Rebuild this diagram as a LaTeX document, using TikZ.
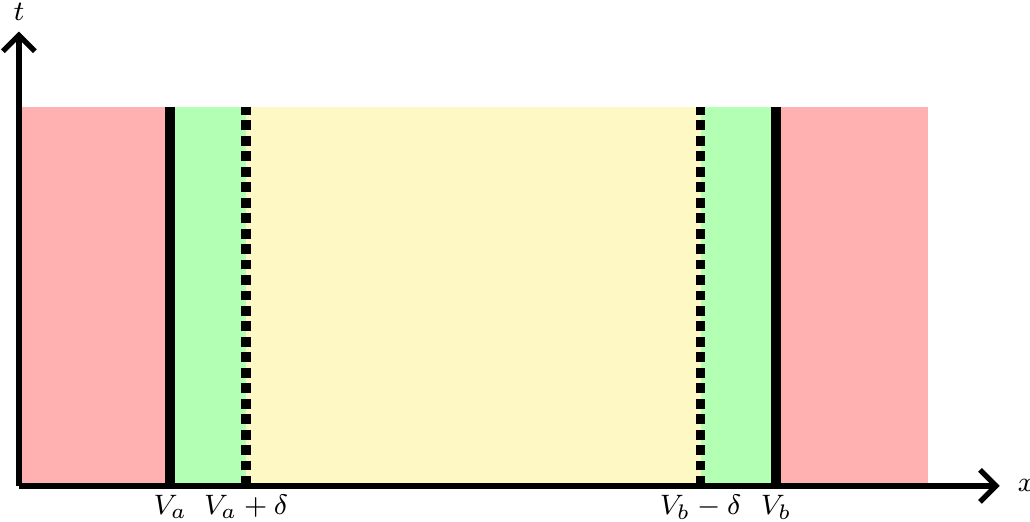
\documentclass[tikz,border=0pt]{standalone}
\usetikzlibrary{arrows.meta,positioning}
\definecolor{stRed}{HTML}{FFB0B0}
\definecolor{stGreen}{HTML}{B3FFB3}
\definecolor{stYellow}{HTML}{FEF8C4}
\tikzset{
  st axis/.style={
    draw=black,
    line width=1.5pt,
    -{Straight Barb[length=1.6mm,width=3.2mm]}
  },
  st wall/.style={draw=black, line width=2.8pt},
  st shifted/.style={draw=black, line width=2.8pt, dash pattern=on 2.8pt off 1.6pt},
  st label/.style={inner sep=1pt, font=\footnotesize}
}
\begin{document}
\begin{tikzpicture}[x=0.7575cm,y=0.7575cm]
  \useasboundingbox (-0.25,-0.475) rectangle (13.35,6.416);
  % regions
  \fill[stRed] (0,0) rectangle (2,5);
  \fill[stGreen] (2,0) rectangle (3,5);
  \fill[stYellow] (3,0) rectangle (9,5);
  \fill[stGreen] (9,0) rectangle (10,5);
  \fill[stRed] (10,0) rectangle (12,5);

  \coordinate (va) at (2,0);
  \coordinate (vad) at (3,0);
  \coordinate (vbd) at (9,0);
  \coordinate (vb) at (10,0);
  \draw[st wall] (va) -- ++(0,5);
  \draw[st wall] (vb) -- ++(0,5);
  \draw[st shifted] (vad) -- ++(0,5);
  \draw[st shifted] (vbd) -- ++(0,5);

  % axes
  \coordinate (o) at (0,0);
  \coordinate (xend) at (12.95,0);
  \coordinate (tend) at (0,6.0);
  \draw[st axis] (o) -- (xend);
  \draw[st axis] (o) -- (tend);
  \node[st label, right=4pt of xend] (xlab) {$x$};
  \node[st label, above=2pt of tend] (tlab) {$t$};

  \node[st label, below=1.5pt of va] (lva) {$V_a$};
  \node[st label, below=1.5pt of vad] (lvad) {$V_a+\delta$};
  \node[st label, below=1.5pt of vbd] (lvbd) {$V_b-\delta$};
  \node[st label, below=1.5pt of vb] (lvb) {$V_b$};
\end{tikzpicture}
\end{document}
